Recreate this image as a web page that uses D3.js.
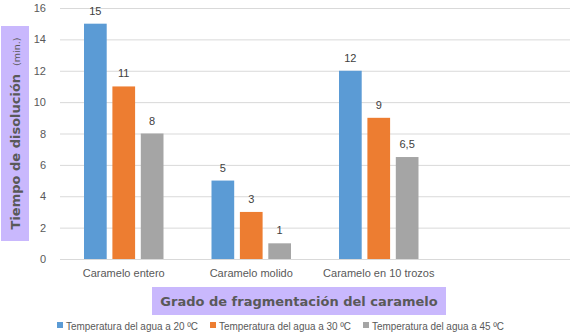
<!DOCTYPE html>
<html><head><meta charset="utf-8">
<script src="https://cdn.jsdelivr.net/npm/d3@7"></script>
<style>body{margin:0;background:#fff}svg{display:block}</style>
</head><body>
<svg id="c" width="573" height="336"></svg>
<script>
const categories = ["Caramelo entero", "Caramelo molido", "Caramelo en 10 trozos", ""];
const seriesNames = ["Temperatura del agua a 20 ºC", "Temperatura del agua a 30 ºC", "Temperatura del agua a 45 ºC"];
const values20 = [15, 5, 12, null];
const values30 = [11, 3, 9, null];
const values45 = [8, 1, 6.5, null];
const yTicks = [0, 2, 4, 6, 8, 10, 12, 14, 16];
const colors = ["#5B9BD5", "#ED7D31", "#A5A5A5"];

(function(){
const series = [values20, values30, values45];
const svg = d3.select("#c");
const pl = 60, pr = 570, pt = 8, pb = 259;

const x = d3.scaleBand().domain(categories).range([pl, pr]).paddingInner(0).paddingOuter(0);
const y = d3.scaleLinear().domain([0, 16]).range([pb, pt]);
const bw = 22.7, gap = 5.7;
const xs = d3.scaleBand().domain([0,1,2]).range([0, 3*bw + 2*gap]).paddingInner(gap/(bw+gap)).paddingOuter(0);
const groupW = 3*bw + 2*gap;

// gridlines
const yAxis = d3.axisLeft(y).tickValues(yTicks).tickSize(-(pr-pl)).tickFormat(d3.format("d"));
const ga = svg.append("g").attr("transform", `translate(${pl},0)`).call(yAxis);
ga.select(".domain").remove();
ga.selectAll(".tick line").attr("stroke", "#D9D9D9").attr("stroke-width", 1);
ga.selectAll(".tick text").attr("x", -14).attr("fill", "#595959")
  .style("font-family", "Liberation Sans, Arial, sans-serif").style("font-size", "11px");

// bars
series.forEach((vals, si) => {
  const g = svg.append("g");
  categories.forEach((c, ci) => {
    const v = vals[ci];
    if (v == null) return;
    const bx = x(c) + (x.bandwidth() - groupW)/2 + xs(si);
    g.append("rect").attr("x", bx).attr("width", xs.bandwidth())
      .attr("y", y(v)).attr("height", y(0) - y(v)).attr("fill", colors[si]);
    g.append("text").attr("x", bx + xs.bandwidth()/2).attr("y", y(v) - 9)
      .attr("text-anchor", "middle").attr("fill", "#404040")
      .style("font-family", "Liberation Sans, Arial, sans-serif").style("font-size", "11px")
      .text(String(v).replace(".", ","));
  });
});

// category labels
const xAxis = d3.axisBottom(x).tickSize(0).tickPadding(10);
const gx = svg.append("g").attr("transform", `translate(0,${pb})`).call(xAxis);
gx.select(".domain").remove();
gx.selectAll(".tick text").attr("fill", "#595959")
  .style("font-family", "Liberation Sans, Arial, sans-serif").style("font-size", "11px");

// x title
svg.append("rect").attr("x", 152).attr("y", 287).attr("width", 294).attr("height", 28).attr("fill", "#C9B8FD");
svg.append("text").attr("x", 299).attr("y", 306).attr("text-anchor", "middle").attr("fill", "#595959")
  .style("font-family", "DejaVu Sans, Verdana, sans-serif").style("font-weight", "bold").style("font-size", "13px")
  .text("Grado de fragmentación del caramelo");

// y title
svg.append("rect").attr("x", 1).attr("y", 26).attr("width", 28).attr("height", 215).attr("fill", "#C9B8FD");
const yt = svg.append("text").attr("transform", "translate(20,133.5) rotate(-90)").attr("text-anchor", "middle").attr("fill", "#595959")
  .style("font-family", "DejaVu Sans, Verdana, sans-serif");
yt.append("tspan").style("font-weight", "bold").style("font-size", "13px").text("Tiempo de disolución");
yt.append("tspan").attr("dx", 8).style("font-size", "9.5px").text("(min.)");

// legend
const legX = [57, 210, 363];
seriesNames.forEach((n, i) => {
  svg.append("rect").attr("x", legX[i]).attr("y", 322).attr("width", 6).attr("height", 6).attr("fill", colors[i]);
  svg.append("text").attr("x", legX[i] + 9).attr("y", 330).attr("fill", "#595959")
    .attr("textLength", 132).attr("lengthAdjust", "spacingAndGlyphs")
    .style("font-family", "Liberation Sans, Arial, sans-serif").style("font-size", "11.5px").text(n);
});
})();
</script>
</body></html>
